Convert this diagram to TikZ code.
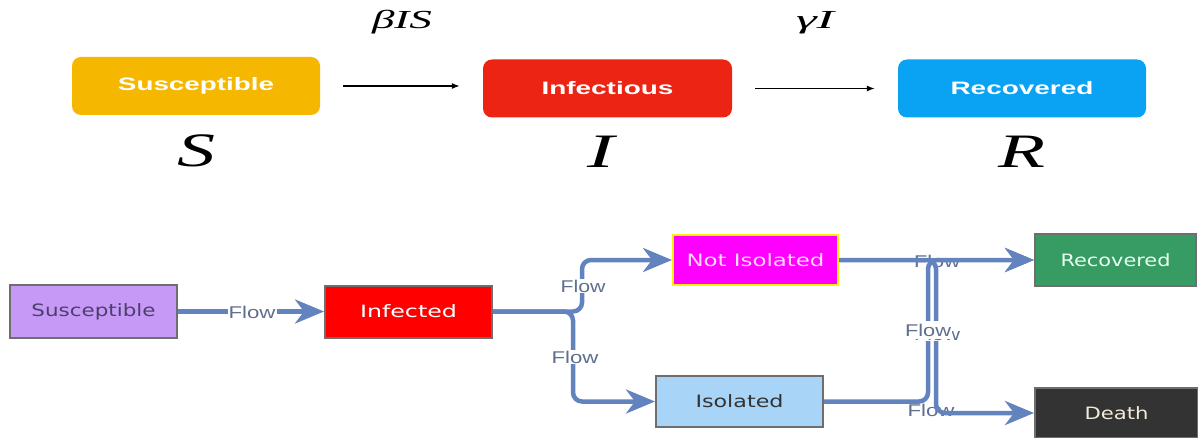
\documentclass[tikz,border=0pt]{standalone}
\usepackage{fontspec}
\usepackage{graphicx}
\setmainfont{Liberation Sans}
\newfontfamily\boxfont{DejaVu Sans}
\newfontfamily\serifit{Liberation Serif}
\usetikzlibrary{arrows.meta}

% palette
\definecolor{susY}{HTML}{F5B700}
\definecolor{infR}{HTML}{EC2414}
\definecolor{recB}{HTML}{0AA2F2}
\definecolor{lav}{HTML}{C799F6}
\definecolor{lavtxt}{HTML}{4B3F6B}
\definecolor{lblgray}{HTML}{5F6F8F}
\definecolor{flowblue}{HTML}{6383BF}
\definecolor{boxgray}{HTML}{6E6E6E}
\definecolor{recG}{HTML}{379B64}
\definecolor{isoB}{HTML}{A8D4F7}
\definecolor{deathK}{HTML}{333333}
\definecolor{magentaF}{HTML}{FF00FF}
\definecolor{yellowF}{HTML}{FFF200}
\definecolor{redF}{HTML}{FF0000}
\definecolor{pinktxt}{HTML}{FFD8FF}
\definecolor{mintxt}{HTML}{E8FFF0}
\definecolor{creamtxt}{HTML}{F0EAD8}

% stretch a text to a given width, keeping its height
\newcommand{\wfit}[2]{\resizebox{#1}{\height}{#2}}

\tikzset{
  topbox/.style={rounded corners=9pt, inner sep=0pt, minimum width=248pt,
    minimum height=58pt, text=white,
    font=\fontsize{18pt}{20pt}\selectfont\bfseries},
  mathlbl/.style={inner sep=0pt, font=\serifit\itshape},
  thinarrow/.style={draw=black, line width=1.2pt, shorten <=23pt, shorten >=23pt,
    -{Latex[length=8pt,width=6pt]}},
  flowbox/.style={draw=boxgray, line width=2pt, inner sep=0pt,
    font=\boxfont\fontsize{17pt}{19pt}\selectfont},
  flowline/.style={draw=flowblue, line width=4.5pt, rounded corners=9pt},
  flowarrow/.style={flowline, -{Stealth[length=29pt,width=24pt,inset=9pt]}},
  flowlbl/.style={text=lblgray, inner sep=1pt,
    font=\fontsize{17pt}{19pt}\selectfont},
  flowlblw/.style={flowlbl, fill=white},
}

\begin{document}
\begin{tikzpicture}[x=1pt,y=-1pt]
\useasboundingbox[fill=white] (0,0) rectangle (1198,438);

% ---------- SIR compartments ----------
\node[topbox, fill=susY] (S) at (196,86) {\wfit{156pt}{Susceptible}};
\node[topbox, fill=infR, minimum width=249pt] (I) at (607.5,88.5) {\wfit{132pt}{Infectious}};
\node[topbox, fill=recB] (R) at (1022,88.5) {\wfit{143pt}{Recovered}};

\draw[thinarrow] (S.east) -- (S.east -| I.west);
\draw[thinarrow] (I.east) -- (I.east -| R.west);

\node[mathlbl, font=\serifit\itshape\fontsize{26pt}{28pt}\selectfont] (rateSI) at (402,22) {\wfit{60pt}{βIS}};
\node[mathlbl, font=\serifit\itshape\fontsize{26pt}{28pt}\selectfont] (rateIR) at (815,23) {\wfit{38pt}{γI}};

\node[mathlbl, font=\serifit\itshape\fontsize{48pt}{50pt}\selectfont] (symS) at (196,151) {\wfit{38pt}{S}};
\node[mathlbl, font=\serifit\itshape\fontsize{48pt}{50pt}\selectfont] (symI) at (601,152) {\wfit{27pt}{I}};
\node[mathlbl, font=\serifit\itshape\fontsize{48pt}{50pt}\selectfont] (symR) at (1022,152) {\wfit{47pt}{R}};

% ---------- flow chart with isolation ----------
\node[flowbox, fill=lav, text=lavtxt, minimum width=167pt, minimum height=53pt]
  (bs) at (93.5,311.5) {\wfit{124pt}{Susceptible}};
\node[flowbox, fill=redF, text=white, minimum width=167pt, minimum height=52pt]
  (binf) at (408.5,311.5) {\wfit{97pt}{Infected}};
\node[flowbox, draw=yellowF, fill=magentaF, text=pinktxt, minimum width=165pt, minimum height=50pt]
  (noti) at (755.5,260) {\wfit{138pt}{Not Isolated}};
\node[flowbox, fill=isoB, text=black!80, minimum width=167pt, minimum height=51pt]
  (iso) at (739.5,401.5) {\wfit{88pt}{Isolated}};
\node[flowbox, fill=recG, text=mintxt, minimum width=161pt, minimum height=52pt]
  (brec) at (1115.5,260) {\wfit{110pt}{Recovered}};
\node[flowbox, fill=deathK, text=creamtxt, minimum width=163pt, minimum height=50pt]
  (death) at (1116.5,413) {\wfit{64pt}{Death}};

% labels lying under the connectors
\node[flowlbl] (fNR) at (937,261) {\wfit{46pt}{Flow}};
\node[flowlbl] (fID) at (931,410) {\wfit{47pt}{Flow}};

% connectors
\draw[flowarrow] (bs.east) -- (binf.west);
\draw[flowarrow] (binf.east) -- (582,311.5) -- (582,260) -- (noti.west);
\draw[flowarrow] (binf.east) -- (573,311.5) -- (573,401.5) -- (iso.west);
\draw[flowarrow] (noti.east) -- (brec.west);
\draw[flowarrow] (noti.east) -- (936,260) -- (936,413) -- (death.west);
\draw[flowarrow] (iso.east) -- (928,401.5) -- (928,260) -- (brec.west);

% labels on top of the connectors
\node[flowlblw] (fSI) at (252,312) {\wfit{47pt}{Flow}};
\node[flowlblw] (fIN) at (583,286) {\wfit{45pt}{Flow}};
\node[flowlblw] (fII) at (575,357) {\wfit{47pt}{Flow}};
\node[flowlblw] (fND) at (937,334) {\wfit{46pt}{Flow}};
\node[flowlblw, inner ysep=3pt] (fIR) at (928,330) {\wfit{46pt}{Flow}};
\end{tikzpicture}
\end{document}
